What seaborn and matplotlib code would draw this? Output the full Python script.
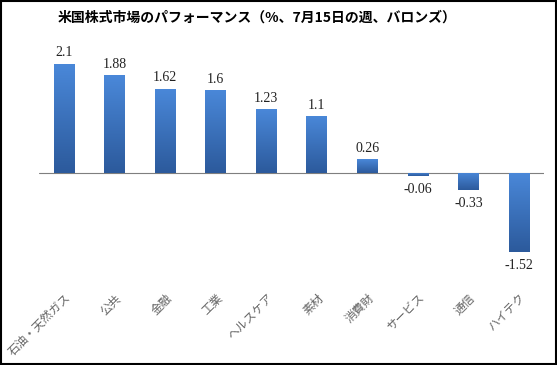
import numpy as np
import pandas as pd
import matplotlib
matplotlib.use("Agg")
import matplotlib.pyplot as plt
import seaborn as sns
from matplotlib.colors import LinearSegmentedColormap

# data
sectors = ["石油・天然ガス", "公共", "金融", "工業", "ヘルスケア", "素材", "消費財", "サービス", "通信", "ハイテク"]
perf = [2.1, 1.88, 1.62, 1.6, 1.23, 1.1, 0.26, -0.06, -0.33, -1.52]
value_labels = ["2.1", "1.88", "1.62", "1.6", "1.23", "1.1", "0.26", "-0.06", "-0.33", "-1.52"]

df = pd.DataFrame({"sector": sectors, "perf": perf})

sns.set_style("white")
plt.rcParams['font.family'] = ['Noto Sans CJK JP', 'DejaVu Sans']

fig = plt.figure(figsize=(5.57, 3.65), dpi=100)
ax = fig.add_axes([0.070, 0.282, 0.907, 0.595])

sns.barplot(data=df, x="sector", y="perf", color="#3b70bf", width=0.41, ax=ax)

# gradient fill on the bars (light top, dark bottom)
cmap = LinearSegmentedColormap.from_list("blu", ["#2c5a9c", "#4a88d9"])
grad = np.linspace(0, 1, 100).reshape(-1, 1)
for p in ax.patches:
    x0, y0 = p.get_x(), p.get_y()
    w, h = p.get_width(), p.get_height()
    ylo, yhi = min(y0, y0 + h), max(y0, y0 + h)
    im = ax.imshow(grad, cmap=cmap, origin="lower", aspect="auto",
                   extent=[x0, x0 + w, ylo, yhi], zorder=2)
    im.set_clip_path(p)
    p.set_edgecolor("none")
ax.set_xlim(-0.5, len(sectors) - 0.5)
ax.set_ylim(-1.71, 2.46)

# value labels
for i, (v, s) in enumerate(zip(perf, value_labels)):
    off = 0.08 if v >= 0 else -0.14
    ax.text(i, v + off, s, ha="center", va="bottom" if v >= 0 else "top",
            fontsize=10, family="Liberation Serif", color="#222222")

ax.axhline(0, color="#7f7f7f", lw=0.8, zorder=1)

for sp in ax.spines.values():
    sp.set_visible(False)
ax.set_yticks([])
ax.set_xlabel("")
ax.set_ylabel("")
ax.tick_params(axis="x", length=0, pad=21)
plt.setp(ax.get_xticklabels(), rotation=45, ha="right", rotation_mode="anchor",
         fontsize=8.5, color="#666666")

fig.text(0.462, 0.952, "米国株式市場のパフォーマンス（%、7月15日の週、バロンズ）",
         ha="center", va="center", fontsize=10, fontweight="bold", color="black")

# outer border
fig.patches.append(plt.Rectangle((0.002, 0.003), 0.996, 0.994, transform=fig.transFigure,
                                 fill=False, edgecolor="black", lw=1.5))

fig.savefig("out.png", dpi=100)
